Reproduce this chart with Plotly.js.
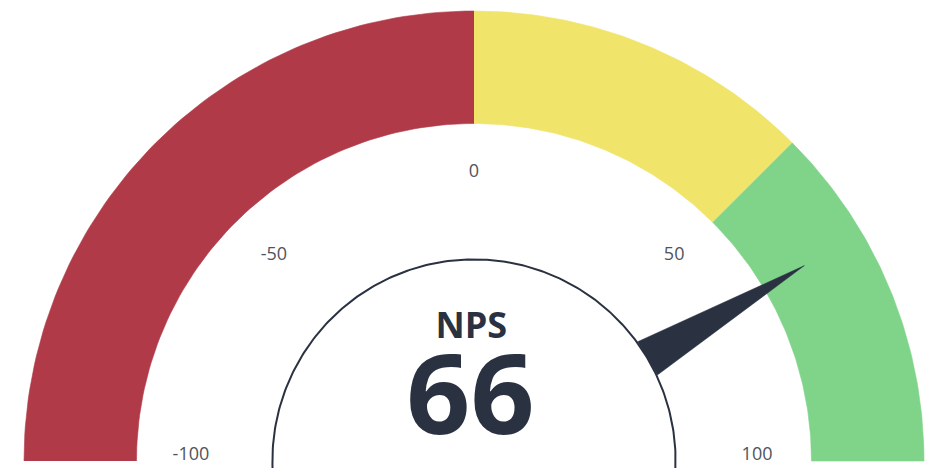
<!DOCTYPE html>
<html>
<head>
<meta charset="utf-8">
<script src="https://cdn.plot.ly/plotly-3.0.1.min.js"></script>
<style>html,body{margin:0;padding:0;background:#fff;}#chart{width:936px;height:468px;}</style>
</head>
<body>
<div id="chart"></div>
<script>
// ---- data ----
const scaleMin = -100;
const scaleMax = 100;
const bandStarts = [-100, 0, 50];
const bandEnds = [0, 50, 100];
const tickValues = [-100, -50, 0, 50, 100];
const tickLabels = ['-100', '-50', '0', '50', '100'];
const metricName = 'NPS';
const metricValue = 66;

// ---- style ----
const bandColors = ['#b03a48', '#f0e46a', '#80d48a'];
const ink = '#2a3242';
const W = 936, H = 468;
const CX = 474, CY = 461, R = 450;       // pixel geometry of gauge
const outerR = 1.0, innerR = 0.75;        // band radii (units of R)
const hubR = 0.448;                       // inner circle radius
const needleTipR = 0.853, needleHalfW = 0.043;
const labelR = 0.629, labelDy = 0.012;

function ang(v) { return Math.PI * (1 - (v - scaleMin) / (scaleMax - scaleMin)); }

const traces = [];
// bands
bandStarts.forEach((s, i) => {
  const e = bandEnds[i];
  const a0 = ang(s), a1 = ang(e);
  const n = 80;
  const xs = [], ys = [];
  for (let k = 0; k <= n; k++) { const a = a0 + (a1 - a0) * k / n; xs.push(outerR * Math.cos(a)); ys.push(outerR * Math.sin(a)); }
  for (let k = n; k >= 0; k--) { const a = a0 + (a1 - a0) * k / n; xs.push(innerR * Math.cos(a)); ys.push(innerR * Math.sin(a)); }
  traces.push({ type: 'scatter', mode: 'lines', x: xs, y: ys, fill: 'toself', fillcolor: bandColors[i],
    line: { width: 0.6, color: bandColors[i] }, hoverinfo: 'skip', showlegend: false });
});
// inner circle
(function () {
  const xs = [], ys = [];
  const n = 200;
  for (let k = 0; k <= n; k++) { const a = -0.05 + (Math.PI + 0.1) * k / n; xs.push(hubR * Math.cos(a)); ys.push(hubR * Math.sin(a)); }
  traces.push({ type: 'scatter', mode: 'lines', x: xs, y: ys, line: { width: 2, color: ink }, hoverinfo: 'skip', showlegend: false });
})();
// needle
(function () {
  const a = ang(metricValue);
  const ux = Math.cos(a), uy = Math.sin(a);
  const px = -uy, py = ux;
  const bx = hubR * ux, by = hubR * uy;
  traces.push({ type: 'scatter', mode: 'lines',
    x: [bx + needleHalfW * px, needleTipR * ux, bx - needleHalfW * px, bx + needleHalfW * px],
    y: [by + needleHalfW * py, needleTipR * uy, by - needleHalfW * py, by + needleHalfW * py],
    fill: 'toself', fillcolor: ink, line: { width: 0.5, color: ink }, hoverinfo: 'skip', showlegend: false });
})();
// tick labels
traces.push({ type: 'scatter', mode: 'text',
  x: tickValues.map(v => labelR * Math.cos(ang(v))),
  y: tickValues.map(v => labelR * Math.sin(ang(v)) + labelDy),
  text: tickLabels, textposition: 'middle center',
  textfont: { family: 'Open Sans, sans-serif', size: 18, color: '#4f545c' },
  hoverinfo: 'skip', showlegend: false });
// center texts
traces.push({ type: 'scatter', mode: 'text', x: [-0.006], y: [(CY - 329) / R],
  text: ['<b>' + metricName + '</b>'], textposition: 'middle center',
  textfont: { family: 'Open Sans, sans-serif', size: 36, color: ink }, hoverinfo: 'skip', showlegend: false });
traces.push({ type: 'scatter', mode: 'text', x: [-0.008], y: [(CY - 406) / R],
  text: ['<b>' + metricValue + '</b>'], textposition: 'middle center',
  textfont: { family: 'Open Sans, sans-serif', size: 112, color: ink }, hoverinfo: 'skip', showlegend: false });

const layout = {
  width: W, height: H,
  margin: { l: 0, r: 0, t: 0, b: 0 },
  paper_bgcolor: '#ffffff', plot_bgcolor: '#ffffff',
  xaxis: { range: [-CX / R, (W - CX) / R], visible: false, fixedrange: true },
  yaxis: { range: [(CY - H) / R, CY / R], visible: false, fixedrange: true },
  showlegend: false
};

Plotly.newPlot('chart', traces, layout, { staticPlot: true, displayModeBar: false });
</script>
</body>
</html>
